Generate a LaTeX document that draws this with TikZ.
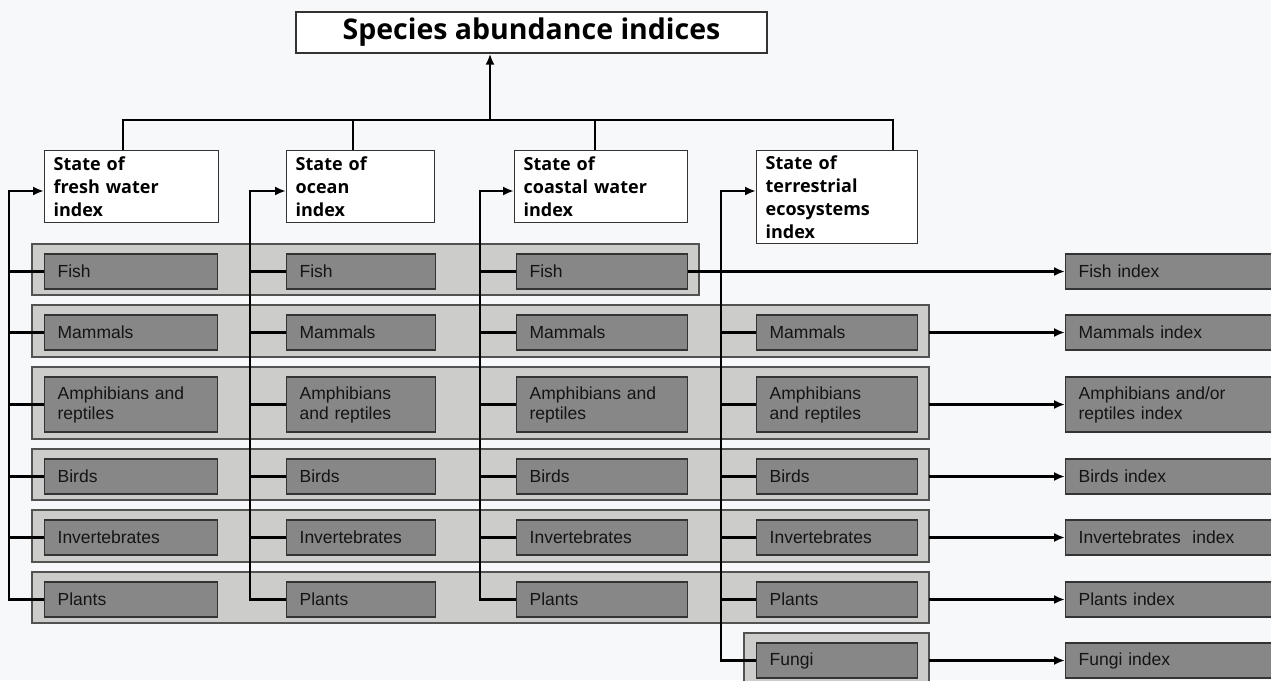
\documentclass[tikz,border=0pt]{standalone}
\usepackage{fontspec}
\setmainfont{Liberation Sans}
\newfontfamily\headfont{Open Sans}
\usetikzlibrary{arrows.meta}
\definecolor{pagebg}{HTML}{F7F8FA}
\definecolor{bandgray}{HTML}{CCCCCA}
\definecolor{spgray}{HTML}{878787}
\definecolor{edgegray}{HTML}{333333}
\tikzset{
  band/.style={draw=edgegray!85, fill=bandgray, line width=1.3pt},
  spbox/.style={draw=edgegray, fill=spgray, line width=1.3pt, anchor=west,
    minimum height=35pt, inner xsep=13pt, inner ysep=0pt, align=left,
    text=black!92, font=\fontsize{17.5}{20}\selectfont},
  colA/.style={text width=147pt},
  colB/.style={text width=123pt},
  colC/.style={text width=145pt},
  colD/.style={text width=135pt},
  idx/.style={spbox, text width=190pt},
  tall/.style={minimum height=55pt},
  statebox/.style={draw=edgegray, fill=white, line width=1.3pt, anchor=north west,
    inner xsep=9pt, inner ysep=1pt, align=left, minimum height=72pt,
    font=\headfont\bfseries\fontsize{18}{23}\selectfont},
  titlebox/.style={draw=edgegray, fill=white, line width=1.3pt,
    minimum width=471pt, minimum height=41pt,
    font=\headfont\bfseries\fontsize{28.5}{32}\selectfont},
  link/.style={line width=2.4pt},
  arr/.style={link, -{Latex[length=11pt,width=9pt]}}
}

\begin{document}
\begin{tikzpicture}[x=1pt,y=-1pt]
\fill[pagebg] (0,0) rectangle (1271,680);
\useasboundingbox (0,0) rectangle (1271,680);

% title and state boxes
\node[titlebox] (top) at (531.5,32.5) {Species abundance indices};
\node[statebox, text width=156pt] (fwst) at (44,150) {State of\\fresh water\\index};
\node[statebox, text width=130pt] (ocst) at (286,150) {State of\\ocean\\index};
\node[statebox, text width=155pt] (cost) at (514,150) {State of\\coastal water\\index};
\node[statebox, text width=143pt, minimum height=93pt] (test) at (756,150) {State of\\terrestrial\\ecosystems\\index};

\coordinate (bus) at (490,120);
\coordinate (fwtop) at (123,150);
\coordinate (octop) at (353,150);
\coordinate (cotop) at (595,150);
\coordinate (tetop) at (893,150);
\draw[link] (fwtop) |- (tetop |- bus) -- (tetop);
\draw[link] (octop) -- (octop |- bus);
\draw[link] (cotop) -- (cotop |- bus);
\draw[arr] (bus) -- (bus |- top.south);

% row bands
\draw[band] (32,244) rectangle (699,295);
\draw[band] (32,305) rectangle (929,357);
\draw[band] (32,367) rectangle (929,439);
\draw[band] (32,449) rectangle (929,500);
\draw[band] (32,510) rectangle (929,562);
\draw[band] (32,572) rectangle (929,623);
\draw[band] (744,633) rectangle (929,690);

% fresh water column
\node[spbox,colA] (fwfish) at (44,271.5) {Fish};
\node[spbox,colA] (fwmam) at (44,332.5) {Mammals};
\node[spbox,colA,tall] (fwamp) at (44,404.5) {Amphibians and\\reptiles};
\node[spbox,colA] (fwbird) at (44,476.5) {Birds};
\node[spbox,colA] (fwinv) at (44,537.5) {Invertebrates};
\node[spbox,colA] (fwpl) at (44,599.5) {Plants};

% ocean column
\node[spbox,colB] (ocfish) at (286,271.5) {Fish};
\node[spbox,colB] (ocmam) at (286,332.5) {Mammals};
\node[spbox,colB,tall] (ocamp) at (286,404.5) {Amphibians\\and reptiles};
\node[spbox,colB] (ocbird) at (286,476.5) {Birds};
\node[spbox,colB] (ocinv) at (286,537.5) {Invertebrates};
\node[spbox,colB] (ocpl) at (286,599.5) {Plants};

% coastal column
\node[spbox,colC] (cofish) at (516,271.5) {Fish};
\node[spbox,colC] (comam) at (516,332.5) {Mammals};
\node[spbox,colC,tall] (coamp) at (516,404.5) {Amphibians and\\reptiles};
\node[spbox,colC] (cobird) at (516,476.5) {Birds};
\node[spbox,colC] (coinv) at (516,537.5) {Invertebrates};
\node[spbox,colC] (copl) at (516,599.5) {Plants};

% terrestrial column
\node[spbox,colD] (temam) at (756,332.5) {Mammals};
\node[spbox,colD,tall] (teamp) at (756,404.5) {Amphibians\\and reptiles};
\node[spbox,colD] (tebird) at (756,476.5) {Birds};
\node[spbox,colD] (teinv) at (756,537.5) {Invertebrates};
\node[spbox,colD] (tepl) at (756,599.5) {Plants};
\node[spbox,colD] (tefun) at (756,660.5) {Fungi};

% indices
\node[idx] (ixfish) at (1065,271.5) {Fish index};
\node[idx] (ixmam) at (1065,332.5) {Mammals index};
\node[idx,tall] (ixamp) at (1065,404.5) {Amphibians and/or\\reptiles index};
\node[idx] (ixbird) at (1065,476.5) {Birds index};
\node[idx] (ixinv) at (1065,537.5) {Invertebrates~ index};
\node[idx] (ixpl) at (1065,599.5) {Plants index};
\node[idx] (ixfun) at (1065,660.5) {Fungi index};

% feeders into the state boxes
\coordinate (fwbus) at (9,191);
\coordinate (ocbus) at (250,191);
\coordinate (cobus) at (480,191);
\coordinate (tebus) at (721,191);
\draw[arr] (fwpl.west) -| (fwbus) -- (fwbus -| fwst.west);
\draw[arr] (ocpl.west) -| (ocbus) -- (ocbus -| ocst.west);
\draw[arr] (copl.west) -| (cobus) -- (cobus -| cost.west);
\draw[arr] (tefun.west) -| (tebus) -- (tebus -| test.west);
\draw[link] (fwfish.west) -- (fwfish.west -| fwbus);
\draw[link] (fwmam.west) -- (fwmam.west -| fwbus);
\draw[link] (fwamp.west) -- (fwamp.west -| fwbus);
\draw[link] (fwbird.west) -- (fwbird.west -| fwbus);
\draw[link] (fwinv.west) -- (fwinv.west -| fwbus);
\draw[link] (ocfish.west) -- (ocfish.west -| ocbus);
\draw[link] (ocmam.west) -- (ocmam.west -| ocbus);
\draw[link] (ocamp.west) -- (ocamp.west -| ocbus);
\draw[link] (ocbird.west) -- (ocbird.west -| ocbus);
\draw[link] (ocinv.west) -- (ocinv.west -| ocbus);
\draw[link] (cofish.west) -- (cofish.west -| cobus);
\draw[link] (comam.west) -- (comam.west -| cobus);
\draw[link] (coamp.west) -- (coamp.west -| cobus);
\draw[link] (cobird.west) -- (cobird.west -| cobus);
\draw[link] (coinv.west) -- (coinv.west -| cobus);
\draw[link] (temam.west) -- (temam.west -| tebus);
\draw[link] (teamp.west) -- (teamp.west -| tebus);
\draw[link] (tebird.west) -- (tebird.west -| tebus);
\draw[link] (teinv.west) -- (teinv.west -| tebus);
\draw[link] (tepl.west) -- (tepl.west -| tebus);

% rows out to the indices
\coordinate (bandR) at (929,0);
\draw[arr] (cofish.east) -- (ixfish.west);
\draw[arr] (temam.east -| bandR) -- (ixmam.west);
\draw[arr] (teamp.east -| bandR) -- (ixamp.west);
\draw[arr] (tebird.east -| bandR) -- (ixbird.west);
\draw[arr] (teinv.east -| bandR) -- (ixinv.west);
\draw[arr] (tepl.east -| bandR) -- (ixpl.west);
\draw[arr] (tefun.east -| bandR) -- (ixfun.west);
\end{tikzpicture}
\end{document}
